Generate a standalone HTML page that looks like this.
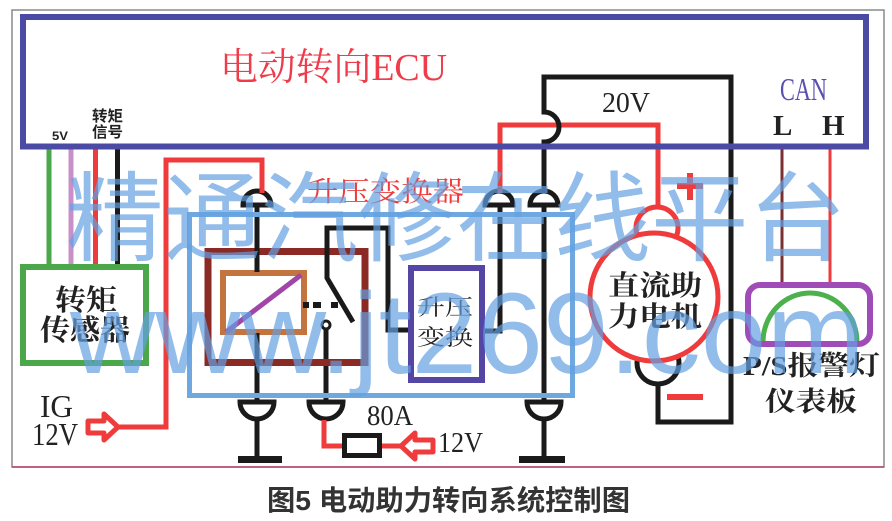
<!DOCTYPE html>
<html>
<head>
<meta charset="utf-8">
<style>
  html,body{margin:0;padding:0;background:#fff;}
  svg{display:block;}
  .serif{font-family:"Liberation Serif","Noto Serif CJK SC",serif;}
  .cjk{font-family:"Liberation Serif","Noto Serif CJK SC","Noto Sans CJK SC",serif;}
  .sans{font-family:"Liberation Sans","Noto Sans CJK SC",sans-serif;}
</style>
</head>
<body>
<svg width="892" height="521" viewBox="0 0 892 521" xmlns="http://www.w3.org/2000/svg">
  <rect x="0" y="0" width="892" height="521" fill="#fff"/>
  <!-- outer thin frame -->
  <rect x="12" y="10" width="872" height="457" fill="none" stroke="#8a8a8a" stroke-width="1.5"/>
  <line x1="12" y1="467" x2="884" y2="467" stroke="#c04070" stroke-width="1.5"/>

  <!-- ECU wires to torque sensor -->
  <line x1="49" y1="146" x2="49" y2="266" stroke="#4aa84a" stroke-width="5"/>
  <line x1="71" y1="146" x2="71" y2="266" stroke="#c890c8" stroke-width="5"/>
  <line x1="95.5" y1="146" x2="95.5" y2="266" stroke="#ef3b3b" stroke-width="5"/>
  <line x1="117.5" y1="146" x2="117.5" y2="266" stroke="#1a1a1a" stroke-width="5"/>

  <!-- CAN wires -->
  <line x1="782" y1="146" x2="782" y2="286" stroke="#7a3030" stroke-width="3"/>
  <line x1="830" y1="146" x2="830" y2="286" stroke="#ef3b3b" stroke-width="3"/>

  <!-- IG red wire -->
  <polyline points="118,427 166,427 166,160 262,160 262,192" fill="none" stroke="#ef3b3b" stroke-width="5" stroke-linejoin="miter"/>
  <path d="M88,421 L104,421 L104,414 L118,427 L104,440 L104,433 L88,433 Z" fill="#fff" stroke="#ef3b3b" stroke-width="5" stroke-linejoin="round"/>

  <!-- upper red wire to motor -->
  <polyline points="500,192 500,125 658,125 658,209" fill="none" stroke="#ef3b3b" stroke-width="5"/>

  <!-- black loop from connector 2 with hop -->
  <path d="M544,192 L544,142 A15,15 0 0 0 544,112 L544,77 L731,77 L731,422 L658,422 L658,384" fill="none" stroke="#1a1a1a" stroke-width="5"/>

  <!-- verticals inside converter -->
  <polyline points="500,205 500,331 482,331" fill="none" stroke="#1a1a1a" stroke-width="5"/>
  <line x1="544" y1="205" x2="544" y2="402" stroke="#1a1a1a" stroke-width="5"/>

  <!-- coil line -->
  <line x1="257" y1="205" x2="257" y2="402" stroke="#1a1a1a" stroke-width="5"/>
  <!-- switch contact line -->
  <line x1="326" y1="325" x2="326" y2="402" stroke="#1a1a1a" stroke-width="5"/>

  <!-- relay box -->
  <rect x="208" y="251.5" width="157" height="111" fill="none" stroke="#8b2a25" stroke-width="7"/>
  <!-- coil box -->
  <rect x="223" y="273" width="81" height="59" fill="#fff" stroke="#c4743e" stroke-width="6"/>
  <line x1="226" y1="332" x2="301" y2="275" stroke="#a245a8" stroke-width="5"/>
  <!-- coil line segments over coil box edges -->
  <line x1="257" y1="248" x2="257" y2="272" stroke="#1a1a1a" stroke-width="5"/>
  <line x1="257" y1="333" x2="257" y2="365" stroke="#1a1a1a" stroke-width="5"/>

  <!-- switch -->
  <polyline points="353,322 327,278 327,228 388,228 388,330 410,330" fill="none" stroke="#1a1a1a" stroke-width="5" stroke-linejoin="miter"/>
  <rect x="303" y="302" width="6" height="6" fill="#1a1a1a"/>
  <rect x="313" y="302" width="8" height="6" fill="#1a1a1a"/>
  <rect x="331" y="302" width="7" height="6" fill="#1a1a1a"/>
  <circle cx="326" cy="325" r="4" fill="#fff" stroke="#1a1a1a" stroke-width="3"/>

  <!-- boost converter inner box -->
  <rect x="411" y="268" width="71" height="112" fill="#fff" stroke="#5545a5" stroke-width="6"/>

  <!-- light blue converter box -->
  <rect x="189.5" y="214.5" width="383" height="181" fill="none" stroke="#6fa8e0" stroke-width="5"/>

  <!-- top connectors (domes) -->
  <path d="M243,205 L271,205 A14,14 0 0 0 243,205 Z" fill="#fff" stroke="#1a1a1a" stroke-width="5"/>
  <path d="M485,205 L513,205 A14,14 0 0 0 485,205 Z" fill="#fff" stroke="#1a1a1a" stroke-width="5"/>
  <path d="M530,205 L558,205 A14,14 0 0 0 530,205 Z" fill="#fff" stroke="#1a1a1a" stroke-width="5"/>
  <line x1="262" y1="189" x2="262" y2="193" stroke="#ef3b3b" stroke-width="5"/>
  <line x1="500" y1="189" x2="500" y2="193" stroke="#ef3b3b" stroke-width="5"/>

  <!-- bottom connectors (bowls) -->
  <path d="M240,402 L274,402 A17,17 0 0 1 240,402 Z" fill="#fff" stroke="#1a1a1a" stroke-width="5"/>
  <path d="M309,402 L343,402 A17,17 0 0 1 309,402 Z" fill="#fff" stroke="#1a1a1a" stroke-width="5"/>
  <path d="M527,402 L561,402 A17,17 0 0 1 527,402 Z" fill="#fff" stroke="#1a1a1a" stroke-width="5"/>

  <!-- grounds -->
  <line x1="257" y1="419" x2="257" y2="459" stroke="#1a1a1a" stroke-width="5"/>
  <rect x="238" y="456" width="44" height="7" fill="#1a1a1a"/>
  <line x1="544" y1="419" x2="544" y2="459" stroke="#1a1a1a" stroke-width="5"/>
  <rect x="519" y="456" width="46" height="7" fill="#1a1a1a"/>

  <!-- 80A fuse and 12V supply -->
  <polyline points="324,420 324,446 402,446" fill="none" stroke="#ef3b3b" stroke-width="5"/>
  <rect x="344.5" y="435.5" width="35" height="20" fill="#fff" stroke="#1a1a1a" stroke-width="5"/>
  <path d="M433,440 L415,440 L415,433 L401,446 L415,459 L415,452 L433,452 Z" fill="#fff" stroke="#ef3b3b" stroke-width="5" stroke-linejoin="round"/>

  <!-- motor -->
  <circle cx="657" cy="228" r="21" fill="none" stroke="#ef3b3b" stroke-width="5"/>
  <circle cx="658" cy="363" r="21" fill="none" stroke="#1a1a1a" stroke-width="5"/>
  <circle cx="654" cy="297" r="64" fill="#fff" stroke="#ef3b3b" stroke-width="5"/>
  <rect x="677" y="183" width="26" height="6" fill="#ef3b3b"/>
  <rect x="687" y="173" width="6" height="27" fill="#ef3b3b"/>
  <rect x="667" y="394" width="36" height="6" fill="#ef3b3b"/>

  <!-- CAN / warning lamp -->
  <path d="M763,342 A47,49 0 0 1 857,342" fill="none" stroke="#4cb04c" stroke-width="5"/>
  <rect x="748" y="285" width="122" height="59" rx="12" ry="12" fill="none" stroke="#a04cb8" stroke-width="6"/>

  <!-- torque sensor -->
  <rect x="23" y="267" width="123" height="96" fill="#fff" stroke="#4aa84a" stroke-width="6"/>

  <!-- ECU box -->
  <rect x="23" y="17" width="843" height="129.5" fill="none" stroke="#4b4ba5" stroke-width="6"/>

  <!-- Texts -->
  <text x="220" y="80" font-size="38" fill="#ef3b4a" class="cjk" textLength="227" lengthAdjust="spacingAndGlyphs">电动转向ECU</text>
  <text x="52" y="140" font-size="12" font-weight="bold" fill="#222" class="sans" textLength="16" lengthAdjust="spacingAndGlyphs">5V</text>
  <text x="92" y="121" font-size="15" font-weight="bold" fill="#222" class="sans" textLength="31" lengthAdjust="spacingAndGlyphs">转矩</text>
  <text x="92" y="137" font-size="15" font-weight="bold" fill="#222" class="sans" textLength="31" lengthAdjust="spacingAndGlyphs">信号</text>

  <text x="55" y="310" font-size="29" font-weight="bold" fill="#222" class="cjk" textLength="62" lengthAdjust="spacingAndGlyphs">转矩</text>
  <text x="40" y="340" font-size="29" font-weight="bold" fill="#222" class="cjk" textLength="90" lengthAdjust="spacingAndGlyphs">传感器</text>

  <text x="307" y="201" font-size="28" fill="#ef3b3b" class="cjk" textLength="157" lengthAdjust="spacingAndGlyphs">升压变换器</text>
  <text x="417" y="315" font-size="22" fill="#222" class="cjk" textLength="56" lengthAdjust="spacingAndGlyphs">升压</text>
  <text x="417" y="345" font-size="22" fill="#222" class="cjk" textLength="56" lengthAdjust="spacingAndGlyphs">变换</text>

  <text x="608" y="295" font-size="28" font-weight="bold" fill="#222" class="cjk" textLength="94" lengthAdjust="spacingAndGlyphs">直流助</text>
  <text x="608" y="326" font-size="28" font-weight="bold" fill="#222" class="cjk" textLength="94" lengthAdjust="spacingAndGlyphs">力电机</text>

  <text x="602" y="112" font-size="29" fill="#222" class="serif" textLength="48" lengthAdjust="spacingAndGlyphs">20V</text>
  <text x="780" y="100" font-size="32" fill="#5a50b0" class="serif" textLength="47" lengthAdjust="spacingAndGlyphs">CAN</text>
  <text x="773" y="135" font-size="29" font-weight="bold" fill="#222" class="serif">L</text>
  <text x="822" y="135" font-size="29" font-weight="bold" fill="#222" class="serif">H</text>

  <text x="743" y="375" font-size="27" font-weight="bold" fill="#222" class="cjk" textLength="137" lengthAdjust="spacingAndGlyphs">P/S报警灯</text>
  <text x="765" y="411" font-size="27" font-weight="bold" fill="#222" class="cjk" textLength="92" lengthAdjust="spacingAndGlyphs">仪表板</text>

  <text x="40" y="417" font-size="32" fill="#222" class="serif" textLength="33" lengthAdjust="spacingAndGlyphs">IG</text>
  <text x="32" y="445" font-size="32" fill="#222" class="serif" textLength="46" lengthAdjust="spacingAndGlyphs">12V</text>
  <text x="367" y="425" font-size="29" fill="#222" class="serif" textLength="46" lengthAdjust="spacingAndGlyphs">80A</text>
  <text x="438" y="452" font-size="29" fill="#222" class="serif" textLength="45" lengthAdjust="spacingAndGlyphs">12V</text>

  <text x="267" y="510" font-size="28" font-weight="bold" fill="#333" font-family="'Liberation Sans','Noto Sans CJK SC',sans-serif" textLength="363" lengthAdjust="spacingAndGlyphs">图5 电动助力转向系统控制图</text>

  <!-- Watermark -->
  <g fill="rgb(100,160,225)" fill-opacity="0.7">
    <text x="66" y="253" font-size="98" font-family="'Noto Sans CJK SC','WenQuanYi Zen Hei',sans-serif" textLength="780" lengthAdjust="spacingAndGlyphs">精通汽修在线平台</text>
    <text x="70" y="373" font-size="115" font-family="'Liberation Sans',sans-serif" textLength="795" lengthAdjust="spacingAndGlyphs">www.jt269.com</text>
  </g>
</svg>
</body>
</html>
